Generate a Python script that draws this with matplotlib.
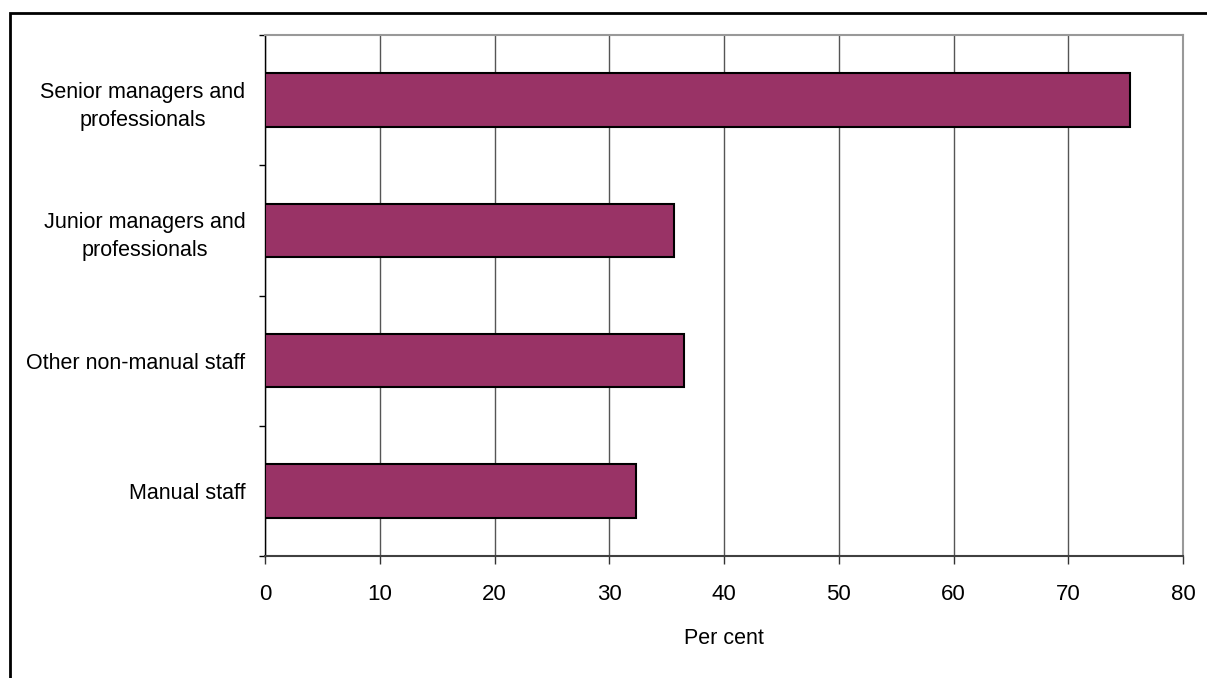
import matplotlib
matplotlib.use("Agg")
import matplotlib.pyplot as plt
from matplotlib.patches import Rectangle
from matplotlib.ticker import FixedLocator

plt.rcParams['font.family'] = ['Liberation Sans', 'DejaVu Sans']

categories = ["Senior managers and\nprofessionals",
              "Junior managers and\nprofessionals",
              "Other non-manual staff",
              "Manual staff"]
values = [75.4, 35.6, 36.5, 32.3]
xticks = [0, 10, 20, 30, 40, 50, 60, 70, 80]

W, H = 1207, 678
fig = plt.figure(figsize=(W / 100, H / 100), dpi=100)
ax = fig.add_axes([265 / W, 1 - 556 / H, (1183 - 265) / W, (556 - 35) / H])

n = len(categories)
ypos = list(range(n))[::-1]
ax.barh(ypos, values, height=0.41, color='#993366', edgecolor='black',
        linewidth=1.5, zorder=3)

ax.set_xlim(0, 80)
ax.set_ylim(-0.5, n - 0.5)
ax.set_xticks(xticks)
ax.set_xticklabels([str(t) for t in xticks], fontsize=16)
ax.set_yticks(ypos)
ax.set_yticklabels(categories, fontsize=15.5, multialignment='center', linespacing=1.45)
ax.yaxis.set_minor_locator(FixedLocator([i - 0.5 for i in range(n + 1)]))
ax.tick_params(axis='y', which='major', length=0, pad=14)
ax.tick_params(axis='y', which='minor', length=4, width=1, color='black', direction='out')
ax.tick_params(axis='x', which='major', length=6, width=1, color='#333333', direction='out', pad=14)

ax.grid(axis='x', color='#555555', linewidth=1, zorder=0)
ax.set_axisbelow(True)

ax.spines['left'].set_color('black')
ax.spines['left'].set_linewidth(1)
ax.spines['bottom'].set_color('#404040')
ax.spines['bottom'].set_linewidth(1.5)
ax.spines['top'].set_color('#999999')
ax.spines['top'].set_linewidth(1.5)
ax.spines['right'].set_color('#999999')
ax.spines['right'].set_linewidth(1.5)

ax.set_xlabel("Per cent", fontsize=15.5, labelpad=17)

frame = Rectangle((10 / W, -0.2), 1.5, (1 - 13 / H) + 0.2, transform=fig.transFigure,
                  fill=False, edgecolor='black', linewidth=2)
fig.patches.append(frame)

fig.savefig("out.png", dpi=100)
